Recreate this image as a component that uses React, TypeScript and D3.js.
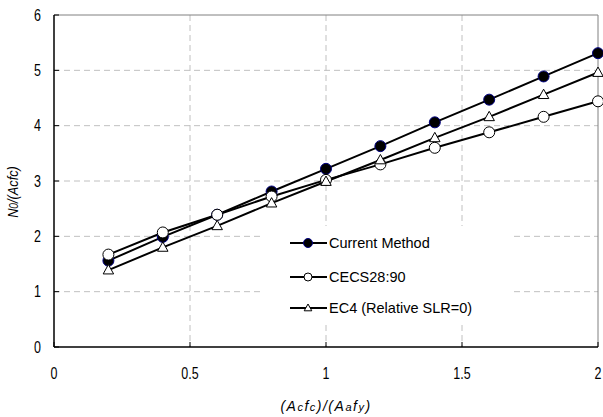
import React from "react";
import * as d3 from "d3";

const xValues = [0.2, 0.4, 0.6, 0.8, 1.0, 1.2, 1.4, 1.6, 1.8, 2.0];
const currentMethod = [1.56, 1.99, 2.39, 2.81, 3.22, 3.63, 4.06, 4.47, 4.89, 5.31];
const cecs = [1.67, 2.07, 2.39, 2.72, 3.02, 3.3, 3.6, 3.88, 4.16, 4.44];
const ec4 = [1.39, 1.8, 2.19, 2.6, 2.99, 3.38, 3.78, 4.16, 4.56, 4.96];
const xTicks = [0, 0.5, 1, 1.5, 2];
const yTicks = [0, 1, 2, 3, 4, 5, 6];
const seriesNames = ["Current Method", "CECS28:90", "EC4 (Relative SLR=0)"];

const W = 603, H = 417;
const L = 54, R = 598, T = 15, B = 347;

export default function App() {
  const x = d3.scaleLinear().domain([0, 2]).range([L, R]);
  const y = d3.scaleLinear().domain([0, 6]).range([B, T]);
  const line = d3.line<number>().x((_, i) => x(xValues[i])).y((v) => y(v));
  const font2 = "'Liberation Sans', Arial, sans-serif";
  const series = [currentMethod, cecs, ec4];
  const tri = (cx: number, cy: number, s: number) =>
    `M${cx},${cy - s}L${cx + s * 0.95},${cy + s * 0.7}L${cx - s * 0.95},${cy + s * 0.7}Z`;
  const marker = (k: number, cx: number, cy: number, key: string, small = false) => {
    const r = small ? 4.5 : 5.5;
    if (k === 0) return <circle key={key} cx={cx} cy={cy} r={r} fill="#000" stroke="#000080" strokeWidth={1} />;
    if (k === 1) return <circle key={key} cx={cx} cy={cy} r={small ? 4 : r} fill="#fff" stroke="#000" strokeWidth={1} />;
    return <path key={key} d={tri(cx, cy, small ? 4 : 5.5)} fill="#fff" stroke="#000" strokeWidth={1} />;
  };
  const legX = 290, legY = [243, 277, 308];
  const narrow = (tx: number, ty: number, anchor: string, content: React.ReactNode, key: string, size = 16) => (
    <text key={key} transform={`translate(${tx},${ty}) scale(0.78,1)`} dy="0.35em" textAnchor={anchor}
      fontFamily={font2} fontSize={size} fill="#000">{content}</text>
  );
  return (
    <svg width={W} height={H} style={{ position: "absolute", left: 0, top: 0 }}>
      <rect width={W} height={H} fill="#fff" />
      {yTicks.slice(1, -1).map((t) => (
        <line key={"gy" + t} x1={L} x2={R} y1={y(t)} y2={y(t)} stroke="#c0c0c0" strokeDasharray="6,4" />
      ))}
      {xTicks.slice(1, -1).map((t) => (
        <line key={"gx" + t} x1={x(t)} x2={x(t)} y1={T} y2={B} stroke="#c0c0c0" strokeDasharray="6,4" />
      ))}
      <line x1={L} x2={R} y1={T} y2={T} stroke="#808080" />
      <line x1={R} x2={R} y1={T} y2={B} stroke="#808080" />
      <line x1={L} x2={L} y1={T} y2={B} stroke="#000" strokeWidth={1.5} />
      <line x1={L} x2={R} y1={B} y2={B} stroke="#000" strokeWidth={1.5} />
      {yTicks.map((t) => (
        <g key={"ty" + t}>
          <line x1={L} x2={L + 5} y1={y(t)} y2={y(t)} stroke="#000" />
          {narrow(41, y(t), "end", t, "yl" + t)}
        </g>
      ))}
      {xTicks.map((t) => (
        <g key={"tx" + t}>
          <line x1={x(t)} x2={x(t)} y1={B} y2={B - 5} stroke="#000" />
          {narrow(x(t), 373, "middle", t, "xl" + t)}
        </g>
      ))}
      {series.map((s, k) => (
        <path key={"l" + k} d={line(s) || ""} fill="none" stroke="#000" strokeWidth={2} />
      ))}
      {series.map((s, k) => s.map((v, i) => marker(k, x(xValues[i]), y(v), `m${k}-${i}`)))}
      <rect x={263} y={226} width={250} height={97} fill="#fff" />
      {seriesNames.map((n, k) => (
        <g key={"lg" + k}>
          <line x1={legX} x2={legX + 37} y1={legY[k]} y2={legY[k]} stroke="#000" strokeWidth={2} />
          {marker(k, legX + 18, legY[k], "lm" + k, true)}
          <text x={legX + 39} y={legY[k]} dy="0.35em" fontFamily={font2} fontSize={14.5} fill="#000">{n}</text>
        </g>
      ))}
      <text x={326} y={406} dy="0.35em" textAnchor="middle" fontFamily={font2} fontSize={14} fontStyle="italic" letterSpacing={1.5} fill="#000">
        (A<tspan fontSize={11}>c</tspan>f<tspan fontSize={11}>c</tspan>)/(A<tspan fontSize={11}>a</tspan>f<tspan fontSize={11}>y</tspan>)
      </text>
      <text transform={`translate(13,192) rotate(-90) scale(0.85,1)`} dy="0.35em" textAnchor="middle" fontFamily={font2} fontSize={15} fontStyle="italic" fill="#000">
        N<tspan fontSize={12}>0</tspan>/(Acfc)
      </text>
    </svg>
  );
}
